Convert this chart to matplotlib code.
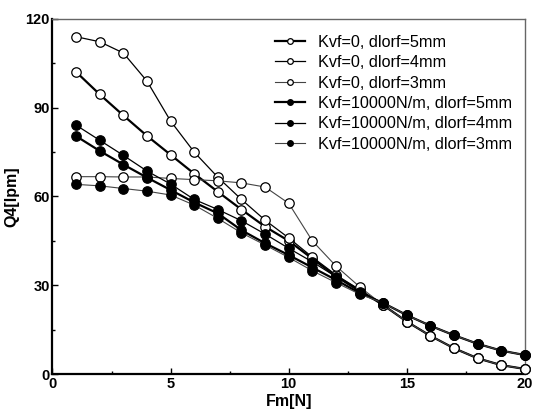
import numpy as np
import matplotlib.pyplot as plt
from matplotlib.ticker import MultipleLocator

plt.rcParams['font.family'] = ['Liberation Sans', 'DejaVu Sans']

fm = np.arange(1, 21)

# Kvf = 0 (open markers)
q_open_5mm = [102.1, 94.5, 87.4, 80.5, 74.1, 67.7, 61.6, 55.6, 49.8, 45.0,
              39.0, 33.0, 28.3, 23.3, 17.7, 12.9, 8.7, 5.3, 3.0, 1.7]
q_open_4mm = [114.0, 112.3, 108.5, 99.0, 85.5, 75.0, 66.5, 59.0, 52.0, 46.0,
              39.5, 33.5, 28.5, 23.3, 17.7, 12.9, 8.7, 5.3, 3.0, 1.7]
q_open_3mm = [66.7, 66.7, 66.6, 66.6, 66.1, 65.7, 65.3, 64.6, 63.2, 57.7,
              45.0, 36.5, 29.5, 23.3, 17.7, 12.9, 8.7, 5.3, 3.0, 1.7]

# Kvf = 10000 N/m (filled markers)
q_fill_5mm = [80.4, 75.4, 70.8, 66.4, 62.2, 58.0, 54.3, 48.6, 44.2, 40.2,
              36.0, 31.8, 27.4, 24.0, 19.9, 16.3, 13.1, 10.2, 7.9, 6.4]
q_fill_4mm = [84.1, 79.0, 73.9, 68.6, 64.2, 59.0, 55.6, 51.8, 47.3, 42.5,
              37.9, 32.9, 27.8, 24.0, 19.9, 16.3, 13.1, 10.2, 7.9, 6.4]
q_fill_3mm = [64.1, 63.6, 62.7, 61.8, 60.5, 57.1, 52.6, 47.7, 43.6, 39.4,
              34.9, 30.9, 27.0, 24.0, 19.9, 16.3, 13.1, 10.2, 7.9, 6.4]

series = [
    ("Kvf=0, dlorf=5mm", q_open_5mm, 'white', 1.6, 'black'),
    ("Kvf=0, dlorf=4mm", q_open_4mm, 'white', 0.9, 'black'),
    ("Kvf=0, dlorf=3mm", q_open_3mm, 'white', 0.8, '#444444'),
    ("Kvf=10000N/m, dlorf=5mm", q_fill_5mm, 'black', 1.6, 'black'),
    ("Kvf=10000N/m, dlorf=4mm", q_fill_4mm, 'black', 0.9, 'black'),
    ("Kvf=10000N/m, dlorf=3mm", q_fill_3mm, 'black', 0.8, '#444444'),
]

fig = plt.figure(figsize=(5.34, 4.2), dpi=100)
ax = fig.add_axes([0.0983, 0.1095, 0.8847, 0.8453])

for label, vals, face, lw, lc in series:
    ax.plot(fm, vals, color=lc, lw=lw, marker='o', markersize=6.8,
            markerfacecolor=face, markeredgecolor='black', markeredgewidth=0.9,
            label=label, clip_on=False, zorder=3)

ax.set_xlim(0, 20)
ax.set_ylim(0, 120)
ax.xaxis.set_major_locator(MultipleLocator(5))
ax.xaxis.set_minor_locator(MultipleLocator(2.5))
ax.yaxis.set_major_locator(MultipleLocator(30))
ax.yaxis.set_minor_locator(MultipleLocator(15))
ax.tick_params(which='both', direction='in', top=False, right=False, width=1)
ax.tick_params(which='major', length=4, pad=2)
ax.tick_params(which='minor', length=2.5)
for lab in ax.get_xticklabels() + ax.get_yticklabels():
    lab.set_fontweight('bold')
    lab.set_fontsize(10.5)

ax.spines['left'].set_linewidth(1.6)
ax.spines['bottom'].set_linewidth(1.6)
ax.spines['top'].set_color('#666666')
ax.spines['right'].set_color('#666666')
ax.spines['top'].set_linewidth(1.0)
ax.spines['right'].set_linewidth(1.0)

ax.set_xlabel("Fm[N]", fontsize=11.5, fontweight='bold', labelpad=2)
ax.set_ylabel("Q4[lpm]", fontsize=11.5, fontweight='bold', labelpad=4)

ax.legend(loc='upper right', bbox_to_anchor=(1.0, 0.992), frameon=False,
          fontsize=11.7, handlelength=1.85, handletextpad=0.75,
          labelspacing=0.33, markerscale=0.6, borderaxespad=0.4)

fig.savefig("out.png", dpi=100)
